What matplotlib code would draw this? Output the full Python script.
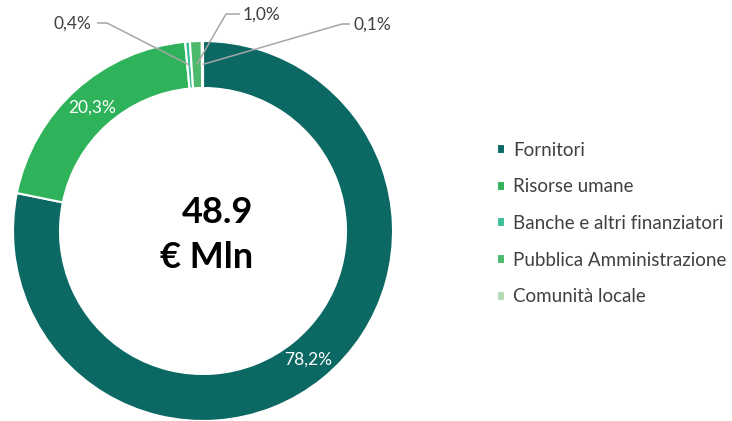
import numpy as np
from matplotlib import pyplot as plt

plt.rcParams['font.family'] = ['Lato', 'DejaVu Sans']

categories = ['Fornitori', 'Risorse umane', 'Banche e altri finanziatori',
              'Pubblica Amministrazione', 'Comunità locale']
shares = [78.2, 20.3, 0.4, 1.0, 0.1]
colors = ['#0b6863', '#2fb35a', '#3cbf96', '#4db96a', '#b5d9b8']
total_label = '48.9\n€ Mln'

W, H = 732, 421


def fmt(p):
    return f'{p:.1f}'.replace('.', ',') + '%'


def px(x, y):
    # pixel coords (top-left origin) -> data coords
    return x, H - y


fig = plt.figure(figsize=(W / 100, H / 100), dpi=100)
ax = fig.add_axes([0, 0, 1, 1])

cx, cy = px(203, 231)
radius = 190
ring = 47

wedges, texts, autotexts = ax.pie(
    shares, colors=colors, startangle=90, counterclock=False,
    center=(cx, cy), radius=radius, autopct=fmt,
    pctdistance=(radius - ring / 2) / radius,
    wedgeprops=dict(width=ring, edgecolor='white', linewidth=1.5),
    textprops=dict(color='white', fontsize=12.5))

# small slices get leader lines instead of inner labels
elbows = {2: ((107, 23), (97, 23), 'right'),
          3: ((226, 14), (240, 14), 'left'),
          4: ((342, 24), (350, 24), 'left')}
r_mid = radius - ring / 2
for i, (elbow, end, ha) in elbows.items():
    autotexts[i].set_visible(False)
    w = wedges[i]
    th = np.radians((w.theta1 + w.theta2) / 2)
    sx, sy = cx + r_mid * np.cos(th), cy + r_mid * np.sin(th)
    ex, ey = px(*elbow)
    tx, ty = px(*end)
    ax.plot([sx, ex, tx], [sy, ey, ty], color='#a6a6a6', lw=1.1,
            solid_capstyle='butt')
    off = -6 if ha == 'right' else 3
    ax.text(tx + off, ty - 1, fmt(shares[i]), ha=ha, va='center',
            fontsize=12.5, color='#404040')

tx, ty = px(253, 235)
ax.text(tx, ty, total_label, ha='right', va='center', fontsize=26,
        fontweight='bold', color='black', linespacing=1.45)

ax.set_xlim(0, W)
ax.set_ylim(0, H)
ax.set_aspect('equal')
ax.axis('off')

fig.legend(wedges, categories, loc='center left',
           bbox_to_anchor=(480 / W, 1 - 223.5 / H), frameon=False,
           fontsize=13.5, labelcolor='#404040', handlelength=0.45,
           handleheight=0.45, handletextpad=0.4, labelspacing=1.05)

fig.savefig('out.png', dpi=100)
